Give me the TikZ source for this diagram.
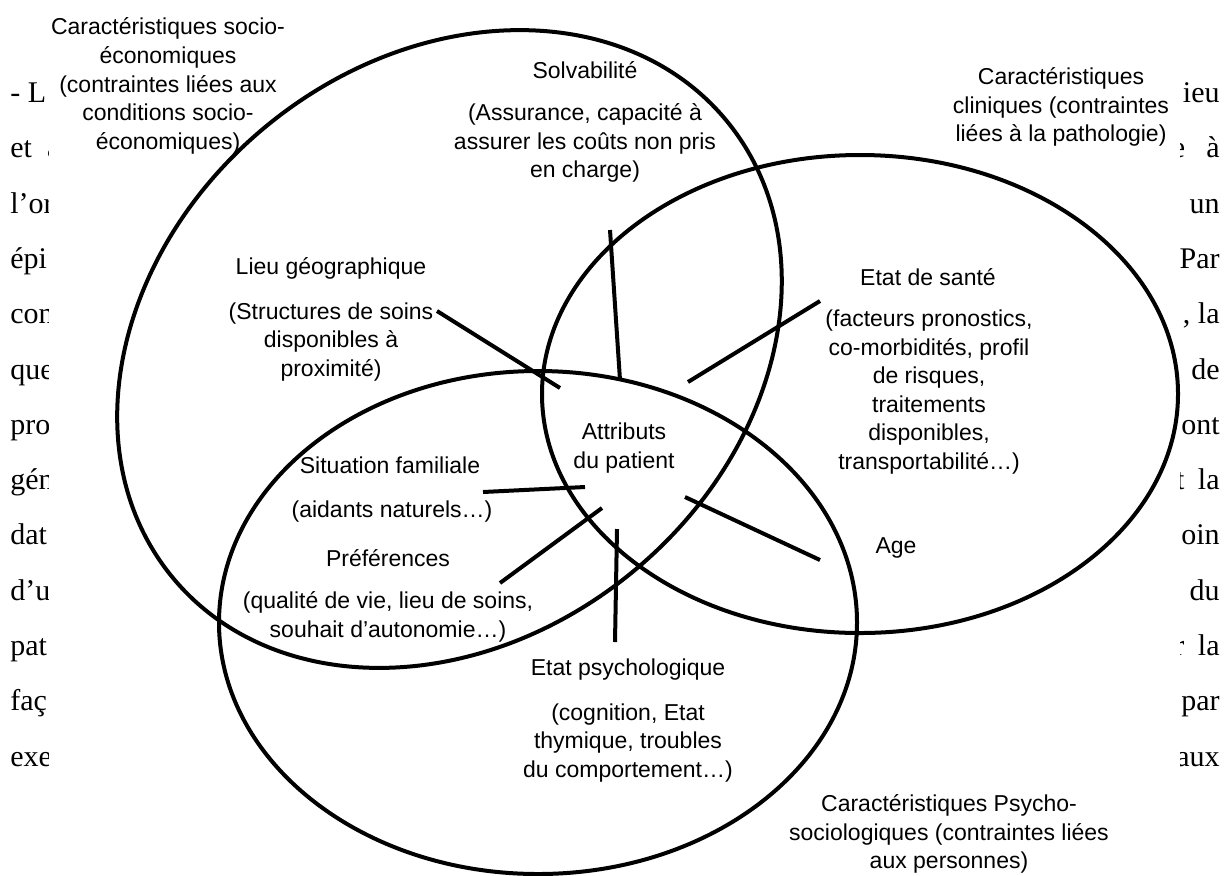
\documentclass[tikz,border=0pt]{standalone}
\usepackage{fontspec}
\setmainfont{Liberation Serif}
\newfontfamily\labelfont{Liberation Sans}

\tikzset{
	ring/.style={line width=2pt, color=black},
	spoke/.style={line width=2pt, color=black},
	lbl/.style={font=\labelfont\fontsize{11.5}{14.3}\selectfont, align=center, inner sep=0pt},
	fragl/.style={font=\fontsize{15}{18}\selectfont, inner sep=0pt, anchor=base west},
	fragr/.style={font=\fontsize{15}{18}\selectfont, inner sep=0pt, anchor=base east},
}

\begin{document}
\begin{tikzpicture}[x=0.5pt, y=-0.5pt]
			%%%%% START %%%%%
			\useasboundingbox (0, 0) rectangle (1231, 875);
			
			% body text behind the figure
			\node[fragl] (l0) at (10, 102) {- L};
			\node[fragl] (l1) at (10, 157) {et\hspace{0.5em}a};
			\node[fragl] (l2) at (10, 213) {l’or};
			\node[fragl] (l3) at (10, 268) {épi};
			\node[fragl] (l4) at (10, 323) {con};
			\node[fragl] (l5) at (10, 379) {que};
			\node[fragl] (l6) at (10, 434) {pro};
			\node[fragl] (l7) at (10, 489) {gén};
			\node[fragl] (l8) at (10, 544) {dat};
			\node[fragl] (l9) at (10, 600) {d’u};
			\node[fragl] (l10) at (10, 655) {pat};
			\node[fragl] (l11) at (10, 710) {faç};
			\node[fragl] (l12) at (10, 766) {exe};
			
			\node[fragr] (r0) at (1220, 102) {ieu};
			\node[fragr] (r1) at (1220, 157) {e\hspace{0.7em}à};
			\node[fragr] (r2) at (1220, 213) {un};
			\node[fragr] (r3) at (1220, 268) {Par};
			\node[fragr] (r4) at (1220, 323) {, la};
			\node[fragr] (r5) at (1220, 379) {de};
			\node[fragr] (r6) at (1220, 434) {ont};
			\node[fragr] (r7) at (1220, 489) {t\hspace{0.45em}la};
			\node[fragr] (r8) at (1220, 544) {oin};
			\node[fragr] (r9) at (1220, 600) {du};
			\node[fragr] (r10) at (1220, 655) {r\hspace{0.45em}la};
			\node[fragr] (r11) at (1220, 710) {par};
			\node[fragr] (r12) at (1220, 766) {aux};
			
			\fill[white] (49, 0) rectangle (1180, 875);
			
			% the three sets
			\coordinate (socio-c) at (449.5, 349);
			\coordinate (clin-c) at (860, 394);
			\coordinate (psy-c) at (538, 622.5);
			
			\draw[ring, rotate around={39.5:(socio-c)}] (socio-c) ellipse (359 and 288.5);
			\draw[ring] (clin-c) ellipse (318 and 239);
			\draw[ring] (psy-c) ellipse (319 and 251.5);
			
			% titles
			\node[lbl] (socio) at (168, 86) {Caractéristiques socio-\\économiques\\(contraintes liées aux\\conditions socio-\\économiques)};
			\node[lbl] (clin) at (1061, 107) {Caractéristiques\\cliniques (contraintes\\liées à la pathologie)};
			\node[lbl] (psycho) at (949, 834) {Caractéristiques Psycho-\\sociologiques (contraintes liées\\aux personnes)};
			
			% attributes
			\node[lbl] (solv) at (585, 70) {Solvabilité};
			\node[lbl] (solv-d) at (585, 143) {(Assurance, capacité à\\assurer les coûts non pris\\en charge)};
			
			\node[lbl] (lieu) at (331, 268) {Lieu géographique};
			\node[lbl] (lieu-d) at (331, 342) {(Structures de soins\\disponibles à\\proximité)};
			
			\node[lbl] (sante) at (928, 277) {Etat de santé};
			\node[lbl] (sante-d) at (929, 392) {(facteurs pronostics,\\co-morbidités, profil\\de risques,\\traitements\\disponibles,\\transportabilité…)};
			
			\node[lbl] (attr) at (624, 448) {Attributs\\du patient};
			
			\node[lbl] (famil) at (390, 465) {Situation familiale};
			\node[lbl] (famil-d) at (392, 512) {(aidants naturels…)};
			
			\node[lbl] (pref) at (388, 558) {Préférences};
			\node[lbl] (pref-d) at (388, 617) {(qualité de vie, lieu de soins,\\souhait d’autonomie…)};
			
			\node[lbl] (age) at (896, 548) {Age};
			
			\node[lbl] (psy) at (628, 670) {Etat psychologique};
			\node[lbl] (psy-d) at (628, 743) {(cognition, Etat\\thymique, troubles\\du comportement…)};
			
			% spokes round the centre
			\coordinate (lieu-o) at (437, 311);
			\coordinate (lieu-i) at (560, 388);
			\coordinate (solv-o) at (610, 230);
			\coordinate (solv-i) at (620, 380);
			\coordinate (sante-o) at (820, 301);
			\coordinate (sante-i) at (688, 382);
			\coordinate (famil-o) at (483, 492);
			\coordinate (famil-i) at (585, 487);
			\coordinate (pref-o) at (500, 583);
			\coordinate (pref-i) at (602, 508);
			\coordinate (psy-o) at (615, 642);
			\coordinate (psy-i) at (617, 529);
			\coordinate (age-o) at (820, 560);
			\coordinate (age-i) at (685, 497);
			
			\draw[spoke] (lieu-o) -- (lieu-i);
			\draw[spoke] (solv-o) -- (solv-i);
			\draw[spoke] (sante-o) -- (sante-i);
			\draw[spoke] (famil-o) -- (famil-i);
			\draw[spoke] (pref-o) -- (pref-i);
			\draw[spoke] (psy-o) -- (psy-i);
			\draw[spoke] (age-o) -- (age-i);
			
			%%%%% END %%%%%
\end{tikzpicture}
\end{document}
